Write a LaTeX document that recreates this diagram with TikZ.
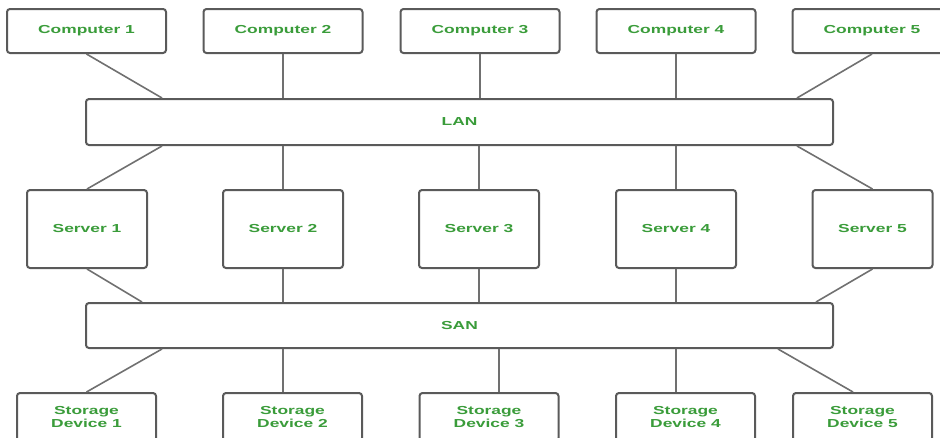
\documentclass[tikz,border=0pt]{standalone}
\usepackage{fontspec}
\newfontfamily\lblfont{Liberation Sans}[FakeStretch=1.5]
\definecolor{lblgreen}{RGB}{58,156,58}
\definecolor{boxgray}{RGB}{90,90,90}
\definecolor{wiregray}{RGB}{112,112,112}
\tikzset{
  box/.style={draw=boxgray, line width=2pt, rounded corners=3pt, fill=white,
    font=\lblfont\bfseries\fontsize{11.6}{12.5}\selectfont, text=lblgreen,
    align=center, inner sep=0pt},
  pc/.style={box, minimum width=159pt, minimum height=44pt},
  srv/.style={box, minimum width=120pt, minimum height=78pt},
  bus/.style={box, minimum width=747pt, minimum height=46pt},
  disk/.style={box, minimum width=139pt, minimum height=48pt},
  wire/.style={draw=wiregray, line width=1.6pt}
}
\begin{document}
\begin{tikzpicture}[x=1pt, y=-1pt]
\useasboundingbox (0,0) rectangle (940,437);
\clip (0,0) rectangle (940,437);

% computers
\node[pc] (c1) at (86.5,31) {Computer 1};
\node[pc] (c2) at (283,31) {Computer 2};
\node[pc] (c3) at (480,31) {Computer 3};
\node[pc] (c4) at (676,31) {Computer 4};
\node[pc] (c5) at (872,31) {Computer 5};

% networks
\node[bus] (lan) at (459.5,122) {LAN};
\node[bus, minimum height=45pt] (san) at (459.5,325.5) {SAN};

% servers
\node[srv] (s1) at (87,229) {Server 1};
\node[srv] (s2) at (283,229) {Server 2};
\node[srv] (s3) at (479,229) {Server 3};
\node[srv] (s4) at (676,229) {Server 4};
\node[srv] (s5) at (872.5,229) {Server 5};

% storage devices
\node[disk] (d1) at (86.5,417) {Storage\\Device 1};
\node[disk] (d2) at (292.5,417) {Storage\\Device 2};
\node[disk] (d3) at (489,417) {Storage\\Device 3};
\node[disk] (d4) at (685.5,417) {Storage\\Device 4};
\node[disk] (d5) at (862.5,417) {Storage\\Device 5};

% attachment points on the storage tops
\coordinate (t2) at ([xshift=-9.5pt]d2.north);
\coordinate (t3) at ([xshift=10pt]d3.north);
\coordinate (t4) at ([xshift=-9.5pt]d4.north);
\coordinate (t5) at ([xshift=-9.5pt]d5.north);

% computers to LAN
\draw[wire] (c1.south) -- ([xshift=77pt]lan.north west);
\draw[wire] (c2.south) -- (lan.north -| c2.south);
\draw[wire] (c3.south) -- (lan.north -| c3.south);
\draw[wire] (c4.south) -- (lan.north -| c4.south);
\draw[wire] (c5.south) -- ([xshift=-37pt]lan.north east);
% LAN to servers
\draw[wire] ([xshift=77pt]lan.south west) -- (s1.north);
\draw[wire] (lan.south -| s2.north) -- (s2.north);
\draw[wire] (lan.south -| s3.north) -- (s3.north);
\draw[wire] (lan.south -| s4.north) -- (s4.north);
\draw[wire] ([xshift=-37pt]lan.south east) -- (s5.north);
% servers to SAN
\draw[wire] (s1.south) -- ([xshift=57pt]san.north west);
\draw[wire] (s2.south) -- (san.north -| s2.south);
\draw[wire] (s3.south) -- (san.north -| s3.south);
\draw[wire] (s4.south) -- (san.north -| s4.south);
\draw[wire] (s5.south) -- ([xshift=-18pt]san.north east);
% SAN to storage
\draw[wire] ([xshift=77pt]san.south west) -- (d1.north);
\draw[wire] (san.south -| t2) -- (t2);
\draw[wire] (san.south -| t3) -- (t3);
\draw[wire] (san.south -| t4) -- (t4);
\draw[wire] ([xshift=-56pt]san.south east) -- (t5);
\end{tikzpicture}
\end{document}
